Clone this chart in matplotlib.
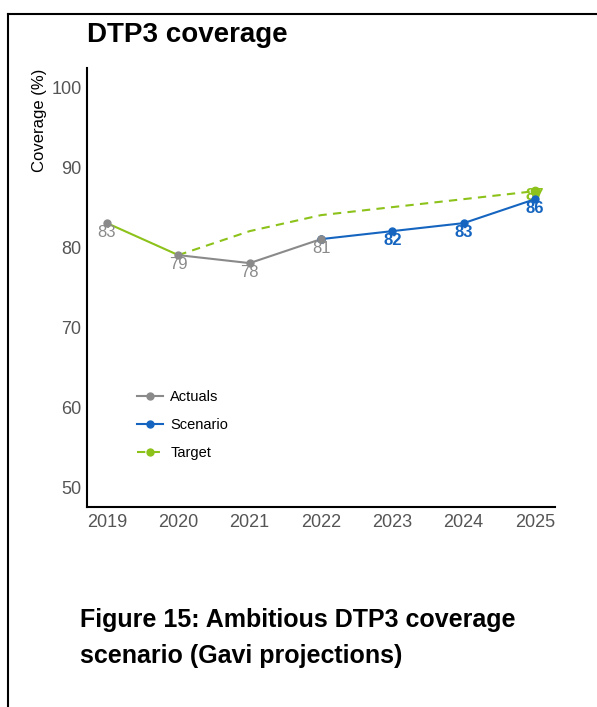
import numpy as np
import matplotlib
matplotlib.use("Agg")
from matplotlib import pyplot as plt
from matplotlib.lines import Line2D

years = [2019, 2020, 2021, 2022, 2023, 2024, 2025]
actual_years = [2019, 2020, 2021, 2022]
actuals = [83, 79, 78, 81]
scenario_years = [2022, 2023, 2024, 2025]
scenario = [81, 82, 83, 86]
target_years = [2019, 2020, 2021, 2022, 2023, 2024, 2025]
target = [83, 79, 82, 84, 85, 86, 87]

grey = "#8a8a8a"
blue = "#1565c0"
green = "#8cc21a"

plt.rcParams['font.family'] = ['Liberation Sans', 'DejaVu Sans']

fig = plt.figure(figsize=(5.97, 7.07), dpi=100)

# page frame lines (top and left)
fig.add_artist(Line2D([8/597, 1], [1-14/707, 1-14/707], color="black", lw=1.5))
fig.add_artist(Line2D([8/597, 8/597], [0, 1-14/707], color="black", lw=1.5))

ax = fig.add_axes([87/597, 1-507/707, (555-87)/597, (507-68)/707])
ax.spines["top"].set_visible(False)
ax.spines["right"].set_visible(False)
ax.spines["left"].set_linewidth(1.5)
ax.spines["bottom"].set_linewidth(1.5)

# target: solid on actual years, dashed beyond
ax.plot(target_years[:2], target[:2], color=green, lw=1.5)
ax.plot(target_years[1:], target[1:], color=green, lw=1.5, ls=(0, (4, 3)))
ax.plot(target_years[-1], target[-1], 'o', color=green, ms=6)
ax.plot(actual_years[1:], actuals[1:], color=grey, lw=1.5, marker='o', ms=5)
ax.plot(actual_years[0], actuals[0], 'o', color=grey, ms=5)
ax.plot(scenario_years, scenario, color=blue, lw=1.5, marker='o', ms=5)
ax.plot(actual_years[-1], actuals[-1], 'o', color=grey, ms=5)

for x, v in zip(actual_years, actuals):
    ax.annotate(str(v), (x, v), xytext=(0, -7), textcoords="offset points",
                ha="center", va="center", color=grey, fontsize=12)
for x, v in zip(scenario_years[1:], scenario[1:]):
    ax.annotate(str(v), (x, v), xytext=(0, -7), textcoords="offset points",
                ha="center", va="center", color=blue, fontsize=12, fontweight="bold")
ax.annotate(str(target[-1]), (target_years[-1], target[-1]), xytext=(0, -3),
            textcoords="offset points", ha="center", va="center", color=green,
            fontsize=12, fontweight="bold", zorder=1)

ax.set_xlim(2018.72, 2025.28)
ax.set_ylim(47.5, 102.4)
ax.set_yticks([50, 60, 70, 80, 90, 100])
ax.set_xticks(years)
ax.tick_params(axis="both", length=0, labelsize=13, labelcolor="#555555")
ax.tick_params(axis="x", pad=5)
ax.tick_params(axis="y", pad=4)
ax.set_ylabel("Coverage (%)", fontsize=12, color="black")
ax.yaxis.set_label_coords(-0.085, 0.88)

handles = [Line2D([], [], color=grey, marker='o', ms=5, lw=1.5),
           Line2D([], [], color=blue, marker='o', ms=5, lw=1.5),
           Line2D([], [], color=green, marker='o', ms=5, lw=1.5, ls=(0, (4, 3)))]
ax.legend(handles, ["Actuals", "Scenario", "Target"], frameon=False,
          loc="upper left", bbox_to_anchor=(0.078, 0.296), fontsize=10.5,
          handlelength=1.8, handletextpad=0.5, labelspacing=0.95)

fig.text(87/597, 1-35/707, "DTP3 coverage", fontsize=20, fontweight="bold",
         ha="left", va="center")
fig.text(80/597, 1-620/707, "Figure 15: Ambitious DTP3 coverage", fontsize=18,
         fontweight="bold", ha="left", va="center")
fig.text(80/597, 1-656/707, "scenario (Gavi projections)", fontsize=18,
         fontweight="bold", ha="left", va="center")

fig.savefig("out.png", dpi=100)
